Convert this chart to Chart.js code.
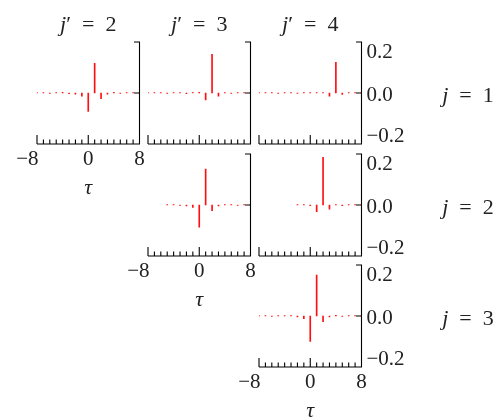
<!DOCTYPE html>
<html>
<head>
<meta charset="utf-8">
<script src="https://cdn.jsdelivr.net/npm/chart.js@4/dist/chart.umd.min.js"></script>
<style>
  body { margin: 0; width: 502px; height: 418px; position: relative; background: #fff; overflow: hidden;
         font-family: "Liberation Serif", "DejaVu Serif", serif; color: #222; }
  canvas { position: absolute; left: 0; top: 0; }
  .lbl { position: absolute; font-size: 22px; white-space: nowrap; transform: translate(-50%, -50%); }
  .lbl i { font-style: italic; }
</style>
</head>
<body>
<script>
// lags (tau) and tick labels
const taus = [-8, -7, -6, -5, -4, -3, -2, -1, 0, 1, 2, 3, 4, 5, 6, 7, 8];
const xTickLabels = [-8, 0, 8];
const yTicks = [-0.2, 0, 0.2];
const jRows = [1, 2, 3];
const jCols = [2, 3, 4];

// cross-correlation values (null = no point)
const ccf12 = [0.002, 0.002, -0.002, 0.002, 0.003, -0.003, -0.005, -0.012, -0.072, 0.116, -0.022, -0.005, 0.003, -0.002, 0.002, 0.002, 0.002];
const ccf13 = [0.002, 0.002, 0.002, -0.002, 0.002, 0.002, -0.003, 0.002, 0.003, -0.027, 0.152, -0.012, 0.002, -0.002, 0.002, 0.002, 0.002];
const ccf14 = [0.002, 0.002, 0.002, -0.002, 0.002, 0.002, -0.002, 0.002, 0.002, 0.002, 0.002, -0.012, 0.12, -0.006, 0.002, 0.002, 0.002];
const ccf23 = [null, null, null, 0.002, 0.002, -0.002, -0.004, -0.009, -0.087, 0.141, -0.022, -0.004, 0.002, 0.002, -0.002, 0.002, 0.002];
const ccf24 = [null, null, null, null, null, null, 0.002, 0.002, -0.003, -0.026, 0.187, -0.016, 0.002, -0.003, 0.002, 0.002, 0.002];
const ccf34 = [0.002, 0.002, -0.002, 0.002, 0.002, 0.002, -0.004, -0.01, -0.1, 0.16, -0.022, -0.004, 0.003, -0.002, 0.002, 0.002, 0.002];

// panel grid: row = j index, col = j' index
const panels = [
  { row: 0, col: 0, values: ccf12 },
  { row: 0, col: 1, values: ccf13 },
  { row: 0, col: 2, values: ccf14 },
  { row: 1, col: 1, values: ccf23 },
  { row: 1, col: 2, values: ccf24 },
  { row: 2, col: 2, values: ccf34 },
];

const W = 502, H = 418;
const colLeft = [37, 148, 259], panelW = 102.5;
const rowTop = [42, 154, 265], panelH = 102;
const FONT = '21px "Liberation Serif", "DejaVu Serif", serif';

function fmt(v) { return String(v).replace('-', '\u2212'); }

// axis lines, inward ticks and tick labels drawn from the chart's own scales
const framePlugin = {
  id: 'frame',
  afterDraw(chart, args, opts) {
    const ctx = chart.ctx, x = chart.scales.x, y = chart.scales.y;
    const x0 = x.getPixelForValue(-8), x1 = x.getPixelForValue(8);
    const yTop = y.getPixelForValue(0.2), yBot = y.getPixelForValue(-0.2), yZero = y.getPixelForValue(0);
    ctx.save();
    ctx.strokeStyle = '#000';
    ctx.lineWidth = 1.1;
    ctx.beginPath();
    ctx.moveTo(x0, yBot); ctx.lineTo(x1, yBot); ctx.lineTo(x1, yTop); ctx.lineTo(x1 - 5.5, yTop);
    ctx.moveTo(x1, yZero); ctx.lineTo(x1 - 5.5, yZero);
    taus.forEach(t => {
      const px = x.getPixelForValue(t);
      const len = (t % 8 === 0) ? 9 : 4.5;
      ctx.moveTo(px, yBot); ctx.lineTo(px, yBot - len);
    });
    ctx.stroke();

    ctx.fillStyle = '#222';
    ctx.font = FONT;
    if (opts.xLabels) {
      ctx.textBaseline = 'middle';
      xTickLabels.forEach(t => {
        const px = x.getPixelForValue(t);
        if (t < 0) { ctx.textAlign = 'right'; ctx.fillText(fmt(t), px + 1.5, yBot + 15); }
        else { ctx.textAlign = 'center'; ctx.fillText(fmt(t), px, yBot + 15); }
      });
    }
    if (opts.yLabels) {
      ctx.textAlign = 'left';
      ctx.textBaseline = 'middle';
      yTicks.forEach(v => {
        let py = y.getPixelForValue(v);
        if (v > 0) py += 10; else if (v < 0) py -= 8; else py += 2;
        ctx.fillText(fmt(v.toFixed(1)), x1 + 5, py);
      });
    }
    ctx.restore();
  }
};

function addLabel(html, cx, cy) {
  const d = document.createElement('div');
  d.className = 'lbl';
  d.innerHTML = html;
  d.style.left = cx + 'px';
  d.style.top = cy + 'px';
  document.body.appendChild(d);
}

panels.forEach(p => {
  const cv = document.createElement('canvas');
  cv.width = W; cv.height = H;
  document.body.appendChild(cv);
  const left = colLeft[p.col], top = rowTop[p.row];
  const pts = [];
  taus.forEach((t, i) => { if (p.values[i] !== null) pts.push({ x: t, y: p.values[i] }); });
  const bottomOfCol = (p.row === p.col);
  new Chart(cv, {
    type: 'bar',
    data: {
      datasets: [{
        data: pts,
        backgroundColor: '#ff1010',
        borderWidth: 0,
        barThickness: 1
      }]
    },
    options: {
      responsive: false,
      animation: false,
      layout: { padding: { left: left, top: top, right: W - left - panelW, bottom: H - top - panelH } },
      plugins: {
        legend: { display: false },
        tooltip: { enabled: false },
        frame: { xLabels: bottomOfCol, yLabels: p.col === 2 }
      },
      scales: {
        x: { type: 'linear', min: -8, max: 8, display: false, offset: false },
        y: { min: -0.2, max: 0.2, display: false }
      }
    },
    plugins: [framePlugin]
  });
  if (bottomOfCol) addLabel('<i>\u03c4</i>', left + panelW / 2, top + panelH + 43);
});

jCols.forEach((j, c) => addLabel('<i>j</i>\u2032\u2002=\u2002' + j, colLeft[c] + panelW / 2, 24));
jRows.forEach((j, r) => addLabel('<i>j</i>\u2002=\u2002' + j, 468, rowTop[r] + panelH / 2 + 2));
</script>
</body>
</html>
